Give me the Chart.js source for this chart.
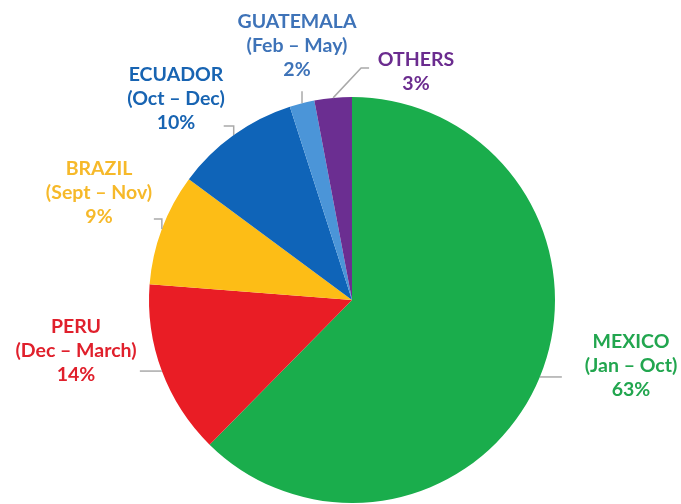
<!DOCTYPE html>
<html>
<head>
<meta charset="utf-8">
<style>
  html, body { margin: 0; padding: 0; background: #fff; }
  #wrap { width: 681px; height: 504px; }
</style>
<script src="https://cdn.jsdelivr.net/npm/chart.js@4/dist/chart.umd.min.js"></script>
</head>
<body>
<div id="wrap"><canvas id="pie" width="681" height="504"></canvas></div>
<script>
// share of supply by origin country, clockwise from 12 o'clock
const countries = ["MEXICO", "PERU", "BRAZIL", "ECUADOR", "GUATEMALA", "OTHERS"];
const seasons = ["Jan – Oct", "Dec – March", "Sept – Nov", "Oct – Dec", "Feb – May", ""];
const shares = [63, 14, 9, 10, 2, 3];

const sliceColors = ["#1aad4c", "#e91d25", "#fdbd16", "#0f64b8", "#4b95d8", "#6b2e91"];
const textColors = ["#22a64f", "#e0202c", "#f6b92a", "#1864b2", "#3e73b8", "#6b2c8f"];

// where each label sits, and how its leader line bends away from the slice edge
const labelPos = [[631, 342], [76, 327], [99, 169], [176, 75], [297, 22], [416, 60]];
const leaders = [
  [[22, 0]],
  [[-22, 0]],
  [[0, -10], [-8, -10]],
  [[0, -9], [-10, -9]],
  [[0, -12]],
  [[28, -30], [36, -30]]
];

const calloutPlugin = {
  id: "callouts",
  afterDatasetsDraw(chart) {
    const ctx = chart.ctx;
    const arcs = chart.getDatasetMeta(0).data;
    ctx.save();
    arcs.forEach((arc, i) => {
      const p = arc.getProps(["x", "y", "startAngle", "endAngle", "outerRadius"], true);
      const mid = (p.startAngle + p.endAngle) / 2;
      const ex = p.x + Math.cos(mid) * p.outerRadius;
      const ey = p.y + Math.sin(mid) * p.outerRadius;

      ctx.strokeStyle = "#a9a9a9";
      ctx.lineWidth = 1.5;
      ctx.beginPath();
      ctx.moveTo(ex, ey);
      leaders[i].forEach(([dx, dy]) => ctx.lineTo(ex + dx, ey + dy));
      ctx.stroke();

      const lines = [countries[i]];
      if (seasons[i]) lines.push("(" + seasons[i] + ")");
      lines.push(shares[i] + "%");

      ctx.fillStyle = textColors[i];
      ctx.font = "bold 19.5px Lato, 'Open Sans', sans-serif";
      ctx.textAlign = "center";
      ctx.textBaseline = "middle";
      const [lx, ly] = labelPos[i];
      lines.forEach((t, k) => ctx.fillText(t, lx, ly + k * 24));
    });
    ctx.restore();
  }
};

new Chart(document.getElementById("pie"), {
  type: "pie",
  data: {
    labels: countries,
    datasets: [{
      data: shares,
      backgroundColor: sliceColors,
      borderWidth: 0
    }]
  },
  options: {
    responsive: false,
    animation: false,
    layout: { padding: { left: 149, right: 126, top: 97, bottom: 1 } },
    plugins: {
      legend: { display: false },
      tooltip: { enabled: false }
    }
  },
  plugins: [calloutPlugin]
});
</script>
</body>
</html>
